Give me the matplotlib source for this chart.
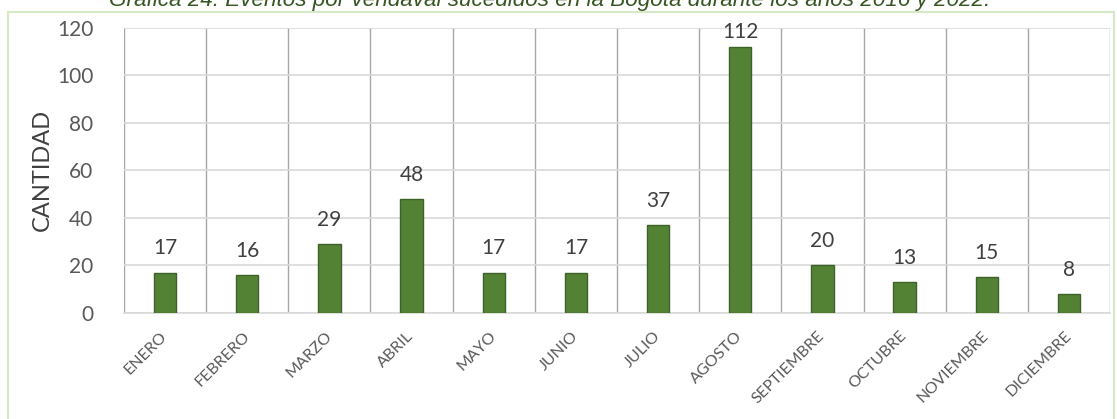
import matplotlib
matplotlib.use("Agg")
import matplotlib.pyplot as plt
import numpy as np
from matplotlib.patches import Rectangle

meses = ["ENERO", "FEBRERO", "MARZO", "ABRIL", "MAYO", "JUNIO", "JULIO",
         "AGOSTO", "SEPTIEMBRE", "OCTUBRE", "NOVIEMBRE", "DICIEMBRE"]
cantidad = [17, 16, 29, 48, 17, 17, 37, 112, 20, 13, 15, 8]
yticks = [0, 20, 40, 60, 80, 100, 120]
titulo = "Gráfica 24. Eventos por vendaval sucedidos en la Bogotá durante los años 2016 y 2022."

plt.rcParams['font.family'] = ['Lato', 'DejaVu Sans']

fig = plt.figure(figsize=(11.17, 4.19), dpi=100)
W, H = 1117, 419

# chart border (light green)
fig.patches.append(Rectangle((7.5 / W, -0.05), (1114 - 7.5) / W, 1.05 - 12.5 / H,
                             transform=fig.transFigure, fill=False,
                             edgecolor="#d5e8c8", linewidth=1.5))

fig.text(550 / W, 1 - 6 / H, titulo, ha="center", va="baseline",
         fontsize=16.2, style="italic", color="#375623",
         family=["Liberation Sans", "DejaVu Sans"])

ax = fig.add_axes([124 / W, 1 - 313 / H, (1110 - 124) / W, (313 - 27.5) / H])
x = np.arange(len(meses))
ax.bar(x, cantidad, width=0.27, color="#548235", edgecolor="#3d6128",
       linewidth=1.0, zorder=3)
ymax = yticks[-1]
for xi, v in zip(x, cantidad):
    off = 13 if v < ymax * 0.85 else 6
    ax.annotate(str(v), (xi, v), xytext=(0, off), textcoords="offset points",
                ha="center", va="baseline", fontsize=15, color="#404040",
                annotation_clip=False)

ax.set_xlim(-0.5, len(meses) - 0.5)
ax.set_ylim(0, ymax)
ax.set_yticks(yticks)
ax.set_yticklabels([str(t) for t in yticks], fontsize=15, color="#595959")
ax.set_xticks(x)
ax.set_xticklabels(meses, rotation=45, ha="right", va="center",
                   rotation_mode="anchor", fontsize=11.5, color="#595959")
ax.tick_params(axis="x", length=0, pad=15)
ax.tick_params(axis="y", length=0, pad=22)
ax.set_xticks(np.arange(-0.5, len(meses), 1.0), minor=True)
ax.tick_params(axis="x", which="minor", length=0)
ax.grid(axis="y", which="major", color="#d9d9d9", linewidth=1.2, zorder=0)
ax.grid(axis="x", which="minor", color="#a6a6a6", linewidth=1.0, zorder=0)
ax.grid(axis="x", which="major", visible=False)
for s in ["left", "right", "top"]:
    ax.spines[s].set_visible(False)
ax.spines["bottom"].set_color("#d9d9d9")
ax.spines["bottom"].set_linewidth(1.2)
ax.set_ylabel("CANTIDAD", fontsize=17, color="#404040")
ax.yaxis.set_label_coords(-(124 - 42) / (1110 - 124), 0.5)
ax.yaxis.label.set_va("center")

fig.savefig("out.png", dpi=100)
